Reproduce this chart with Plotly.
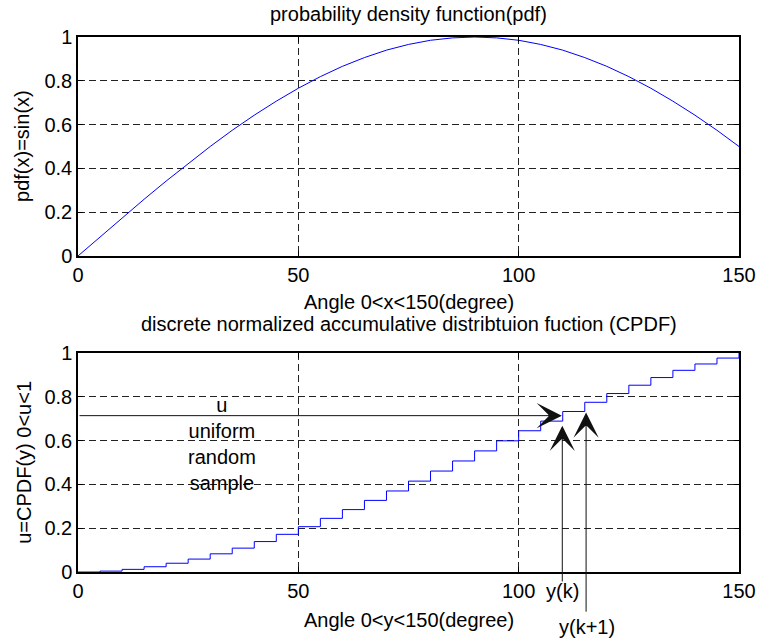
import plotly.graph_objects as go

# ---- data ----
angles = [0, 5, 10, 15, 20, 25, 30, 35, 40, 45, 50, 55, 60, 65, 70, 75,
          80, 85, 90, 95, 100, 105, 110, 115, 120, 125, 130, 135, 140, 145, 150]
pdf_vals = [0.0, 0.087, 0.174, 0.259, 0.342, 0.423, 0.5, 0.574, 0.643, 0.707,
            0.766, 0.819, 0.866, 0.906, 0.940, 0.966, 0.985, 0.996, 1.0, 0.996,
            0.985, 0.966, 0.940, 0.906, 0.866, 0.819, 0.766, 0.707, 0.643, 0.574, 0.5]
cpdf_vals = [0.0, 0.004, 0.012, 0.024, 0.040, 0.059, 0.083, 0.109, 0.139, 0.172,
             0.207, 0.245, 0.285, 0.327, 0.370, 0.415, 0.461, 0.507, 0.553, 0.599,
             0.645, 0.689, 0.733, 0.775, 0.815, 0.853, 0.888, 0.921, 0.950, 0.977, 1.0]
x_ticks = [0, 50, 100, 150]
y_ticks = [0, 0.2, 0.4, 0.6, 0.8, 1]
y_ticktext = ["0", "0.2", "0.4", "0.6", "0.8", "1"]
u_value = 0.714
u_arrow_end = 109.8
yk = 109.9
yk1 = 115.3
yk_tip = 0.668
yk1_tip = 0.728

FONT = "Liberation Sans, Arial, sans-serif"
FS = 20

fig = go.Figure()
fig.add_trace(go.Scatter(x=angles, y=pdf_vals, mode="lines",
                         line=dict(color="#0000ff", width=1),
                         xaxis="x", yaxis="y", showlegend=False))
fig.add_trace(go.Scatter(x=angles, y=cpdf_vals, mode="lines",
                         line=dict(color="#0000ff", width=1, shape="hv"),
                         xaxis="x2", yaxis="y2", showlegend=False))

axis_common = dict(
    showline=True, linecolor="black", linewidth=1.5, mirror="allticks",
    ticks="inside", ticklen=5, tickcolor="black", tickwidth=1,
    showgrid=True, gridcolor="#222", gridwidth=1, griddash="7px,4px",
    zeroline=False, automargin=False,
    tickfont=dict(family=FONT, size=FS, color="black"),
)

fig.update_layout(
    width=760, height=642,
    margin=dict(l=78, r=21, t=37, b=70, autoexpand=False),
    paper_bgcolor="white", plot_bgcolor="white",
    font=dict(family=FONT, size=FS, color="black"),
    xaxis=dict(domain=[0, 1], anchor="y", range=[0, 150], tickvals=x_ticks, **axis_common),
    yaxis=dict(domain=[0.5907, 1], anchor="x", range=[0, 1], tickvals=y_ticks,
               ticktext=y_ticktext, **axis_common),
    xaxis2=dict(domain=[0, 1], anchor="y2", range=[0, 150], tickvals=x_ticks, **axis_common),
    yaxis2=dict(domain=[0, 0.4093], anchor="x2", range=[0, 1], tickvals=y_ticks,
                ticktext=y_ticktext, **axis_common),
)

ann = []
def txt(text, x, y, **kw):
    d = dict(text=text, x=x, y=y, xref="paper", yref="paper", showarrow=False,
             font=dict(family=FONT, size=FS, color="black"),
             xanchor="center", yanchor="middle")
    d.update(kw)
    ann.append(d)

txt("probability density function(pdf)", 0.5, 1.043)
txt("Angle 0<x<150(degree)", 0.5, 0.505)
txt("discrete normalized accumulative distribtuion fuction (CPDF)", 0.5, 0.463)
txt("Angle 0<y<150(degree)", 0.5, -0.090)
txt("pdf(x)=sin(x)", -0.085, 0.796, textangle=-90)
txt("u=CPDF(y) 0<u<1", -0.082, 0.2056, textangle=-90)
txt("y(k)", (562.5 - 78) / 661, -0.036)
txt("y(k+1)", (587 - 78) / 661, -0.103)

# annotation text inside the lower plot
ann.append(dict(text="u<br>uniform<br>random<br>sample", x=32.7, y=0.585,
                xref="x2", yref="y2", showarrow=False,
                font=dict(family=FONT, size=FS, color="black"),
                xanchor="center", yanchor="middle"))

# arrows
arrow_common = dict(showarrow=True, arrowhead=3, arrowsize=4.2, arrowwidth=1,
                    arrowcolor="#111", text="", xref="x2", yref="y2",
                    axref="x2", ayref="y2", standoff=0, startstandoff=0)
ann.append(dict(x=u_arrow_end, y=u_value, ax=0, ay=u_value, **arrow_common))
ann.append(dict(x=yk, y=yk_tip, ax=yk, ay=-0.05, **arrow_common))
ann.append(dict(x=yk1, y=yk1_tip, ax=yk1, ay=-0.188, **arrow_common))

fig.update_layout(annotations=ann)
fig.write_html("out.html")
